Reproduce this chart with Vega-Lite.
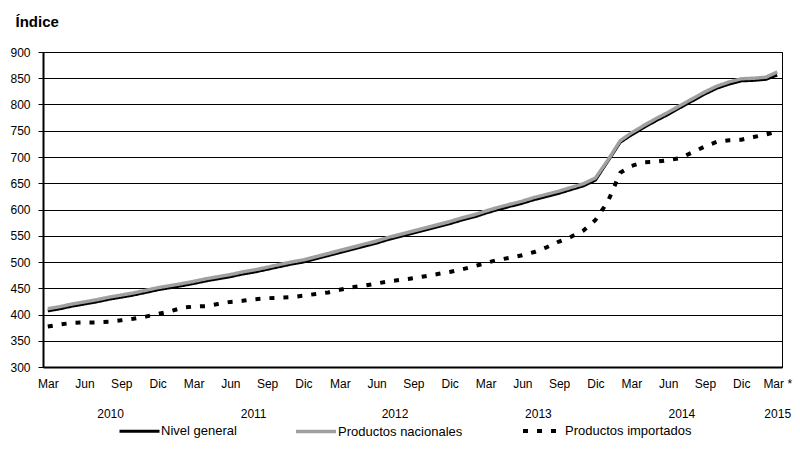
{
  "$schema": "https://vega.github.io/schema/vega-lite/v6.json",
  "width": 739,
  "height": 315,
  "autosize": {"type": "none"},
  "padding": {"left": 43, "top": 52, "right": 18, "bottom": 99},
  "background": "white",
  "config": {
    "font": "Liberation Sans",
    "view": {"stroke": "black", "strokeWidth": 1},
    "legend": {
      "symbolType": "stroke",
      "symbolSize": 1600,
      "symbolStrokeWidth": 4,
      "labelFontSize": 13,
      "labelFont": "Liberation Sans",
      "labelColor": "black",
      "labelOffset": 0,
      "columnPadding": 52,
      "labelLimit": 300
    }
  },
  "data": {
    "values": [
      {"fecha": "2010-03-01", "Nivel general": 407, "Productos nacionales": 411, "Productos importados": 377},
      {"fecha": "2010-04-01", "Nivel general": 411, "Productos nacionales": 415, "Productos importados": 381},
      {"fecha": "2010-05-01", "Nivel general": 416, "Productos nacionales": 420, "Productos importados": 384},
      {"fecha": "2010-06-01", "Nivel general": 420, "Productos nacionales": 424, "Productos importados": 385},
      {"fecha": "2010-07-01", "Nivel general": 424, "Productos nacionales": 428, "Productos importados": 385},
      {"fecha": "2010-08-01", "Nivel general": 429, "Productos nacionales": 433, "Productos importados": 386},
      {"fecha": "2010-09-01", "Nivel general": 433, "Productos nacionales": 437, "Productos importados": 389},
      {"fecha": "2010-10-01", "Nivel general": 437, "Productos nacionales": 441, "Productos importados": 392},
      {"fecha": "2010-11-01", "Nivel general": 442, "Productos nacionales": 446, "Productos importados": 396},
      {"fecha": "2010-12-01", "Nivel general": 447, "Productos nacionales": 451, "Productos importados": 401},
      {"fecha": "2011-01-01", "Nivel general": 451, "Productos nacionales": 455, "Productos importados": 406},
      {"fecha": "2011-02-01", "Nivel general": 455, "Productos nacionales": 459, "Productos importados": 413},
      {"fecha": "2011-03-01", "Nivel general": 459, "Productos nacionales": 463, "Productos importados": 415},
      {"fecha": "2011-04-01", "Nivel general": 464, "Productos nacionales": 468, "Productos importados": 416},
      {"fecha": "2011-05-01", "Nivel general": 468, "Productos nacionales": 472, "Productos importados": 420},
      {"fecha": "2011-06-01", "Nivel general": 472, "Productos nacionales": 476, "Productos importados": 424},
      {"fecha": "2011-07-01", "Nivel general": 477, "Productos nacionales": 481, "Productos importados": 426},
      {"fecha": "2011-08-01", "Nivel general": 481, "Productos nacionales": 485, "Productos importados": 429},
      {"fecha": "2011-09-01", "Nivel general": 486, "Productos nacionales": 490, "Productos importados": 431},
      {"fecha": "2011-10-01", "Nivel general": 491, "Productos nacionales": 495, "Productos importados": 432},
      {"fecha": "2011-11-01", "Nivel general": 496, "Productos nacionales": 500, "Productos importados": 433},
      {"fecha": "2011-12-01", "Nivel general": 500, "Productos nacionales": 504, "Productos importados": 436},
      {"fecha": "2012-01-01", "Nivel general": 506, "Productos nacionales": 510, "Productos importados": 439},
      {"fecha": "2012-02-01", "Nivel general": 512, "Productos nacionales": 516, "Productos importados": 442},
      {"fecha": "2012-03-01", "Nivel general": 518, "Productos nacionales": 522, "Productos importados": 447},
      {"fecha": "2012-04-01", "Nivel general": 524, "Productos nacionales": 528, "Productos importados": 452},
      {"fecha": "2012-05-01", "Nivel general": 530, "Productos nacionales": 534, "Productos importados": 455},
      {"fecha": "2012-06-01", "Nivel general": 536, "Productos nacionales": 540, "Productos importados": 459},
      {"fecha": "2012-07-01", "Nivel general": 543, "Productos nacionales": 547, "Productos importados": 463},
      {"fecha": "2012-08-01", "Nivel general": 549, "Productos nacionales": 553, "Productos importados": 466},
      {"fecha": "2012-09-01", "Nivel general": 555, "Productos nacionales": 559, "Productos importados": 469},
      {"fecha": "2012-10-01", "Nivel general": 561, "Productos nacionales": 565, "Productos importados": 473},
      {"fecha": "2012-11-01", "Nivel general": 567, "Productos nacionales": 571, "Productos importados": 477},
      {"fecha": "2012-12-01", "Nivel general": 573, "Productos nacionales": 577, "Productos importados": 481},
      {"fecha": "2013-01-01", "Nivel general": 580, "Productos nacionales": 584, "Productos importados": 486},
      {"fecha": "2013-02-01", "Nivel general": 586, "Productos nacionales": 590, "Productos importados": 492},
      {"fecha": "2013-03-01", "Nivel general": 593, "Productos nacionales": 597, "Productos importados": 498},
      {"fecha": "2013-04-01", "Nivel general": 600, "Productos nacionales": 604, "Productos importados": 504},
      {"fecha": "2013-05-01", "Nivel general": 606, "Productos nacionales": 610, "Productos importados": 508},
      {"fecha": "2013-06-01", "Nivel general": 612, "Productos nacionales": 616, "Productos importados": 513},
      {"fecha": "2013-07-01", "Nivel general": 619, "Productos nacionales": 623, "Productos importados": 519},
      {"fecha": "2013-08-01", "Nivel general": 625, "Productos nacionales": 629, "Productos importados": 528},
      {"fecha": "2013-09-01", "Nivel general": 631, "Productos nacionales": 635, "Productos importados": 539},
      {"fecha": "2013-10-01", "Nivel general": 638, "Productos nacionales": 642, "Productos importados": 548},
      {"fecha": "2013-11-01", "Nivel general": 645, "Productos nacionales": 649, "Productos importados": 560},
      {"fecha": "2013-12-01", "Nivel general": 656, "Productos nacionales": 660, "Productos importados": 580},
      {"fecha": "2014-01-01", "Nivel general": 692, "Productos nacionales": 694, "Productos importados": 615},
      {"fecha": "2014-02-01", "Nivel general": 728, "Productos nacionales": 731, "Productos importados": 670},
      {"fecha": "2014-03-01", "Nivel general": 742, "Productos nacionales": 746, "Productos importados": 683},
      {"fecha": "2014-04-01", "Nivel general": 756, "Productos nacionales": 760, "Productos importados": 690},
      {"fecha": "2014-05-01", "Nivel general": 769, "Productos nacionales": 773, "Productos importados": 691},
      {"fecha": "2014-06-01", "Nivel general": 781, "Productos nacionales": 785, "Productos importados": 694},
      {"fecha": "2014-07-01", "Nivel general": 794, "Productos nacionales": 798, "Productos importados": 698},
      {"fecha": "2014-08-01", "Nivel general": 807, "Productos nacionales": 811, "Productos importados": 709},
      {"fecha": "2014-09-01", "Nivel general": 820, "Productos nacionales": 824, "Productos importados": 720},
      {"fecha": "2014-10-01", "Nivel general": 831, "Productos nacionales": 835, "Productos importados": 729},
      {"fecha": "2014-11-01", "Nivel general": 839, "Productos nacionales": 843, "Productos importados": 732},
      {"fecha": "2014-12-01", "Nivel general": 845, "Productos nacionales": 849, "Productos importados": 733},
      {"fecha": "2015-01-01", "Nivel general": 846, "Productos nacionales": 850, "Productos importados": 738},
      {"fecha": "2015-02-01", "Nivel general": 848, "Productos nacionales": 852, "Productos importados": 743},
      {"fecha": "2015-03-01", "Nivel general": 856, "Productos nacionales": 862, "Productos importados": 748}
    ]
  },
  "transform": [
    {"fold": ["Nivel general", "Productos nacionales", "Productos importados"], "as": ["serie", "valor"]}
  ],
  "mark": {"type": "line", "strokeCap": "butt", "strokeJoin": "round"},
  "encoding": {
    "x": {
      "field": "fecha",
      "type": "temporal",
      "scale": {
        "type": "utc",
        "domain": [
          {"year": 2010, "month": 2, "date": 17, "utc": true},
          {"year": 2015, "month": 3, "date": 13, "utc": true}
        ]
      },
      "axis": {
        "title": null,
        "values": [
          {"year": 2010, "month": 3, "date": 1, "utc": true},
          {"year": 2010, "month": 6, "date": 1, "utc": true},
          {"year": 2010, "month": 8, "date": 4, "utc": true},
          {"year": 2010, "month": 9, "date": 1, "utc": true},
          {"year": 2010, "month": 12, "date": 1, "utc": true},
          {"year": 2011, "month": 3, "date": 1, "utc": true},
          {"year": 2011, "month": 6, "date": 1, "utc": true},
          {"year": 2011, "month": 7, "date": 28, "utc": true},
          {"year": 2011, "month": 9, "date": 1, "utc": true},
          {"year": 2011, "month": 12, "date": 1, "utc": true},
          {"year": 2012, "month": 3, "date": 1, "utc": true},
          {"year": 2012, "month": 6, "date": 1, "utc": true},
          {"year": 2012, "month": 7, "date": 16, "utc": true},
          {"year": 2012, "month": 9, "date": 1, "utc": true},
          {"year": 2012, "month": 12, "date": 1, "utc": true},
          {"year": 2013, "month": 3, "date": 1, "utc": true},
          {"year": 2013, "month": 6, "date": 1, "utc": true},
          {"year": 2013, "month": 7, "date": 10, "utc": true},
          {"year": 2013, "month": 9, "date": 1, "utc": true},
          {"year": 2013, "month": 12, "date": 1, "utc": true},
          {"year": 2014, "month": 3, "date": 1, "utc": true},
          {"year": 2014, "month": 6, "date": 1, "utc": true},
          {"year": 2014, "month": 7, "date": 4, "utc": true},
          {"year": 2014, "month": 9, "date": 1, "utc": true},
          {"year": 2014, "month": 12, "date": 1, "utc": true},
          {"year": 2015, "month": 3, "date": 1, "utc": true}
        ],
        "labelExpr": "indexof([2,5,8,11], utcmonth(datum.value)) >= 0 && utcdate(datum.value) == 1 ? (utcyear(datum.value) == 2015 ? ['\u00a0\u00a0\u00a0Mar\u00a0*', '2015'] : ['Ene','Feb','Mar','Abr','May','Jun','Jul','Ago','Sep','Oct','Nov','Dic'][utcmonth(datum.value)]) : ['\u00a0', '' + utcyear(datum.value)]",
        "ticks": false,
        "grid": false,
        "domainColor": "black",
        "domainWidth": 2,
        "labelFontSize": 12,
        "labelColor": "black",
        "labelPadding": 11,
        "labelLineHeight": 30,
        "labelBaseline": "top",
        "labelOverlap": false,
        "labelFlush": false,
        "labelBound": false
      }
    },
    "y": {
      "field": "valor",
      "type": "quantitative",
      "scale": {"domain": [300, 900], "nice": false, "zero": false},
      "axis": {
        "values": [300, 350, 400, 450, 500, 550, 600, 650, 700, 750, 800, 850, 900],
        "title": "Índice",
        "titleAngle": 0,
        "titleAlign": "left",
        "titleBaseline": "middle",
        "titleX": -28,
        "titleY": -31,
        "titleFontSize": 15,
        "titleFontWeight": "bold",
        "titleColor": "black",
        "grid": true,
        "gridColor": "black",
        "gridWidth": 1,
        "domainColor": "black",
        "domainWidth": 2,
        "tickColor": "black",
        "tickSize": 5,
        "tickWidth": 1,
        "labelFontSize": 12,
        "labelColor": "black",
        "labelPadding": 8
      }
    },
    "color": {
      "field": "serie",
      "type": "nominal",
      "scale": {
        "domain": ["Nivel general", "Productos nacionales", "Productos importados"],
        "range": ["#000000", "#a0a0a0", "#000000"]
      },
      "legend": {"title": null, "orient": "none", "legendX": 75, "legendY": 357, "direction": "horizontal"}
    },
    "strokeDash": {
      "field": "serie",
      "type": "nominal",
      "scale": {
        "domain": ["Nivel general", "Productos nacionales", "Productos importados"],
        "range": [[1, 0], [1, 0], [5, 9]]
      },
      "legend": {"title": null, "orient": "none", "legendX": 75, "legendY": 357, "direction": "horizontal"}
    },
    "strokeWidth": {
      "field": "serie",
      "type": "ordinal",
      "scale": {
        "domain": ["Nivel general", "Productos nacionales", "Productos importados"],
        "range": [3, 4, 3]
      },
      "legend": null
    }
  }
}
